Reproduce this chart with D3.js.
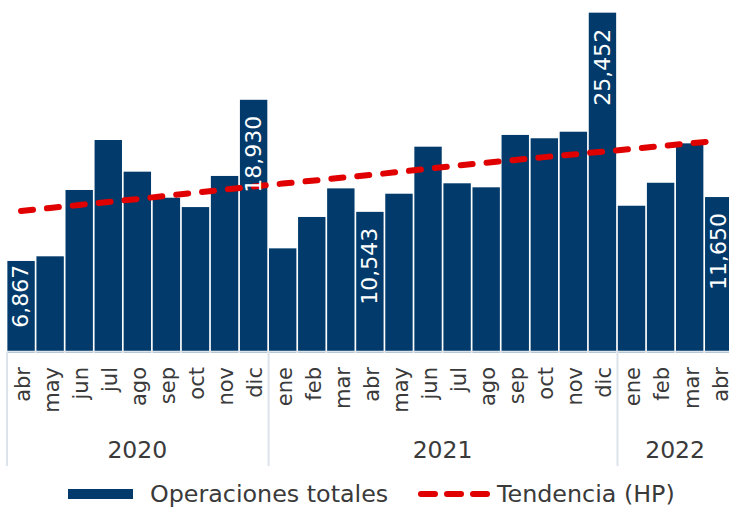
<!DOCTYPE html>
<html>
<head>
<meta charset="utf-8">
<script src="https://cdn.jsdelivr.net/npm/d3@7"></script>
<style>
  html, body { margin: 0; padding: 0; background: #fff; }
  svg { display: block; font-family: "DejaVu Sans", sans-serif; }
</style>
</head>
<body>
<div id="chart"></div>
<script>
// monthly categories, one per bar
const months = ["abr", "may", "jun", "jul", "ago", "sep", "oct", "nov", "dic",
    "ene", "feb", "mar", "abr", "may", "jun", "jul", "ago", "sep", "oct", "nov", "dic",
    "ene", "feb", "mar", "abr"];
const years = ["2020", "2021", "2022"];
const monthsPerYear = [9, 12, 4];

const operaciones = [6867, 7215, 12180, 15920, 13550, 11600, 10900, 13230, 18930,
    7810, 10160, 12300, 10543, 11900, 15420, 12680, 12380, 16300, 16050, 16540, 25452,
    11000, 12720, 15670, 11650];
const tendencia = [10610, 10830, 11060, 11280, 11500, 11740, 11980, 12210, 12440,
    12660, 12870, 13090, 13300, 13530, 13770, 14000, 14220, 14430, 14640, 14840, 15050,
    15250, 15460, 15670, 15870];
// bars that carry a value label
const labelled = [0, 8, 12, 20, 24];

const width = 729, height = 507;
const barColor = "#023b6b", trendColor = "#e00000", textColor = "#3a3a3a", gridColor = "#dde3ea";

const svg = d3.select("#chart").append("svg")
    .attr("width", width)
    .attr("height", height);

const keys = months.map((m, i) => i);

const x = d3.scaleBand()
    .domain(keys)
    .range([6.5, 733.3])
    .paddingInner(0.058)
    .paddingOuter(0.03);

const y = d3.scaleLinear()
    .domain([0, 26400])
    .range([352.7, 0]);

const step = x.step();
const x0 = x.range()[0];

// bars
svg.append("g")
    .selectAll("rect")
    .data(operaciones)
    .join("rect")
    .attr("x", (d, i) => x(i))
    .attr("y", d => y(d))
    .attr("width", x.bandwidth())
    .attr("height", d => y(0) - y(d))
    .attr("fill", barColor);

// baseline
svg.append("line")
    .attr("x1", x0).attr("x2", width)
    .attr("y1", 351.7).attr("y2", 351.7)
    .attr("stroke", gridColor)
    .attr("stroke-width", 2);

// year separators
let boundaries = [0];
monthsPerYear.forEach(n => boundaries.push(boundaries[boundaries.length - 1] + n));
svg.append("g")
    .selectAll("line")
    .data(boundaries.slice(0, -1))
    .join("line")
    .attr("x1", d => x0 + d * step + 0.5)
    .attr("x2", d => x0 + d * step + 0.5)
    .attr("y1", 352)
    .attr("y2", 466)
    .attr("stroke", gridColor)
    .attr("stroke-width", 2);

// month labels
svg.append("g")
    .selectAll("text")
    .data(months)
    .join("text")
    .attr("transform", (d, i) => `translate(${x(i) + x.bandwidth() / 2 + 1.5},367) rotate(-90)`)
    .attr("text-anchor", "end")
    .attr("dy", "0.35em")
    .attr("font-size", 21)
    .attr("fill", textColor)
    .text(d => d);

// year labels
svg.append("g")
    .selectAll("text")
    .data(years)
    .join("text")
    .attr("x", (d, i) => x0 + (boundaries[i] + boundaries[i + 1]) / 2 * step)
    .attr("y", 450)
    .attr("text-anchor", "middle")
    .attr("dominant-baseline", "central")
    .attr("font-size", 23.5)
    .attr("fill", textColor)
    .text(d => d);

// trend line
const line = d3.line()
    .x((d, i) => x(i) + x.bandwidth() / 2)
    .y(d => y(d));

svg.append("path")
    .datum(tendencia)
    .attr("d", line)
    .attr("fill", "none")
    .attr("stroke", trendColor)
    .attr("stroke-width", 6)
    .attr("stroke-linecap", "round")
    .attr("stroke-dasharray", "12,14");

// value labels inside bars
const fmt = d3.format(",");
const labels = svg.append("g")
    .selectAll("text")
    .data(labelled)
    .join("text")
    .attr("text-anchor", "end")
    .attr("dy", "0.35em")
    .attr("font-size", 22)
    .attr("fill", "#fff")
    .text(i => fmt(operaciones[i]));

labels.each(function (i) {
    const len = this.getComputedTextLength();
    const top = Math.min(y(operaciones[i]) + 16, y(0) - 25 - len);
    d3.select(this)
        .attr("transform", `translate(${x(i) + x.bandwidth() / 2 - 0.5},${top}) rotate(-90)`);
});

// legend
const legend = svg.append("g");
legend.append("rect")
    .attr("x", 68).attr("y", 489)
    .attr("width", 65).attr("height", 10)
    .attr("fill", barColor);
legend.append("text")
    .attr("x", 150).attr("y", 494)
    .attr("dominant-baseline", "central")
    .attr("font-size", 23.8)
    .attr("fill", textColor)
    .text("Operaciones totales");
legend.append("line")
    .attr("x1", 421).attr("x2", 490)
    .attr("y1", 494).attr("y2", 494)
    .attr("stroke", trendColor)
    .attr("stroke-width", 6)
    .attr("stroke-linecap", "round")
    .attr("stroke-dasharray", "14,12");
legend.append("text")
    .attr("x", 497).attr("y", 494)
    .attr("dominant-baseline", "central")
    .attr("font-size", 23.8)
    .attr("fill", textColor)
    .text("Tendencia (HP)");
</script>
</body>
</html>
